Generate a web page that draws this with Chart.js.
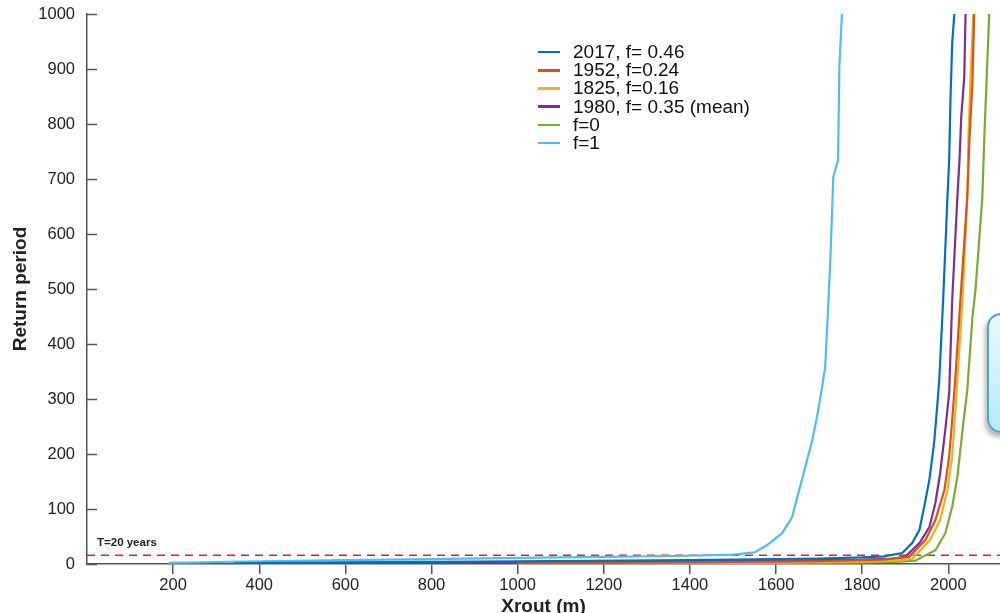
<!DOCTYPE html>
<html>
<head>
<meta charset="utf-8">
<script src="https://cdn.jsdelivr.net/npm/chart.js@4.4.1/dist/chart.umd.min.js"></script>
<style>
    html, body { margin: 0; padding: 0; background: #fff; overflow: hidden; }
    #wrap { position: relative; width: 1000px; height: 613px; overflow: hidden; font-family: "Liberation Sans", Arial, sans-serif; }
    #legend { position: absolute; left: 538px; top: 43px; font-size: 19px; color: #111; line-height: 18.2px; }
    #legend div { display: flex; align-items: center; white-space: nowrap; }
    #legend span.sw { display: inline-block; width: 22px; height: 2.5px; margin-right: 13px; }
    #tlabel { position: absolute; left: 97px; top: 536px; font-size: 11.5px; font-weight: bold; color: #222; }
    #callout { position: absolute; left: 987px; top: 313px; width: 40px; height: 116px; border-radius: 14px;
        border: 2px solid #4fa6c9; background: linear-gradient(to bottom, #eaf9fe, #b3e9fb);
        box-shadow: -2px 4px 5px rgba(0,0,0,0.3); }
</style>
</head>
<body>
<div id="wrap">
    <canvas id="chart" width="1000" height="613"></canvas>
    <div id="legend"></div>
    <div id="tlabel">T=20 years</div>
    <div id="callout"></div>
</div>
<script>
// Series: Xrout (m) and return period (years)
const x2017 = [342, 600, 1000, 1400, 1700, 1800, 1850, 1893, 1916, 1933, 1944, 1956, 1967, 1974, 1979, 1988, 1998, 2002, 2005, 2009, 2014];
const y2017 = [1, 3, 5, 7, 10, 12, 14, 20, 38, 62, 104, 153, 220, 285, 335, 480, 667, 735, 844, 947, 1000];

const x1952 = [1000, 1400, 1700, 1850, 1909, 1947, 1970, 1991, 2002, 2009, 2016, 2028, 2044, 2049, 2056, 2060];
const y1952 = [1, 3, 5, 8, 13, 44, 80, 135, 195, 262, 335, 480, 667, 771, 875, 1000];

const x1825 = [1190, 1500, 1800, 1880, 1916, 1958, 1981, 1998, 2009, 2016, 2021, 2033, 2044, 2047, 2051, 2058];
const y1825 = [1, 2, 4, 6, 9, 44, 80, 135, 195, 275, 335, 480, 667, 784, 875, 1000];

const x1980 = [444, 800, 1200, 1600, 1800, 1870, 1900, 1933, 1956, 1970, 1981, 1993, 2002, 2009, 2021, 2026, 2030, 2037, 2040];
const y1980 = [1, 2, 4, 6, 8, 10, 13, 38, 67, 111, 165, 244, 311, 480, 667, 735, 813, 885, 1000];

const xF0 = [1335, 1600, 1800, 1880, 1923, 1970, 1993, 2009, 2021, 2033, 2044, 2056, 2063, 2070, 2079, 2084, 2091, 2095];
const yF0 = [1, 2, 3, 4, 6, 25, 56, 104, 158, 244, 316, 449, 498, 571, 667, 784, 922, 1000];

const xF1 = [190, 400, 600, 800, 1000, 1200, 1400, 1500, 1550, 1580, 1614, 1637, 1660, 1684, 1695, 1707, 1714, 1721, 1726, 1733, 1744, 1747, 1753];
const yF1 = [2, 5, 7, 9, 11, 13, 15, 17, 21, 35, 56, 85, 153, 225, 267, 322, 358, 467, 553, 704, 735, 904, 1000];

const thresholdX = [0, 2120];
const thresholdY = [16, 16];

const labels = ['2017, f= 0.46', '1952, f=0.24', '1825, f=0.16', '1980, f= 0.35 (mean)', 'f=0', 'f=1'];
const colors = ['#0072BD', '#D95319', '#EDB120', '#7E2F8E', '#77AC30', '#4DBEEE'];

const xTickValues = [200, 400, 600, 800, 1000, 1200, 1400, 1600, 1800, 2000];
const yTickValues = [0, 100, 200, 300, 400, 500, 600, 700, 800, 900, 1000];

const seriesX = [x2017, x1952, x1825, x1980, xF0, xF1];
const seriesY = [y2017, y1952, y1825, y1980, yF0, yF1];

const toPoints = (xs, ys) => xs.map((x, i) => ({ x, y: ys[i] }));

const datasets = labels.map((label, i) => ({
    label,
    data: toPoints(seriesX[i], seriesY[i]),
    borderColor: colors[i],
    borderWidth: 2.2,
    pointRadius: 0,
    pointHoverRadius: 0,
    tension: 0,
    fill: false
}));
datasets.push({
    label: 'T=20 years',
    data: toPoints(thresholdX, thresholdY),
    borderColor: '#e02222',
    borderWidth: 1.5,
    borderDash: [8, 6],
    pointRadius: 0,
    pointHoverRadius: 0,
    fill: false
});

// legend as html
document.getElementById('legend').innerHTML = labels.map((l, i) =>
    `<div><span class="sw" style="background:${colors[i]}"></span>${l}</div>`).join('');

// y ticks point into the plot
const inwardTicks = {
    id: 'inwardTicks',
    afterDraw(chart) {
        const { ctx, chartArea, scales } = chart;
        ctx.save();
        ctx.strokeStyle = '#555';
        ctx.lineWidth = 1.5;
        yTickValues.forEach(v => {
            const py = Math.round(scales.y.getPixelForValue(v)) + 0.5;
            ctx.beginPath();
            ctx.moveTo(chartArea.left, py);
            ctx.lineTo(chartArea.left + 10, py);
            ctx.stroke();
        });
        ctx.restore();
    }
};

const font = { family: '"Liberation Sans", Arial, sans-serif' };
const plain = v => String(v);

new Chart(document.getElementById('chart'), {
    type: 'line',
    data: { datasets },
    options: {
        responsive: false,
        animation: false,
        devicePixelRatio: 1,
        layout: { autoPadding: false, padding: { top: 14, right: 0, left: 0, bottom: 0 } },
        plugins: { legend: { display: false }, tooltip: { enabled: false } },
        scales: {
            x: {
                type: 'linear',
                min: 0, max: 2120,
                afterBuildTicks: s => { s.ticks = xTickValues.map(v => ({ value: v })); },
                afterFit: s => { s.height = 49; s.paddingLeft = 0; s.paddingRight = 0; },
                grid: { drawOnChartArea: false, drawTicks: true, tickLength: 10, color: '#555', lineWidth: 1.5 },
                border: { display: true, color: '#555', width: 1.5 },
                ticks: { color: '#222', font: { ...font, size: 16.5 }, padding: 2, maxRotation: 0, callback: plain },
                title: { display: true, text: 'Xrout (m)', color: '#222', font: { ...font, size: 19, weight: 'bold', lineHeight: 1 }, padding: { top: 0, bottom: -3 } }
            },
            y: {
                type: 'linear',
                min: 0, max: 1000,
                afterBuildTicks: s => { s.ticks = yTickValues.map(v => ({ value: v })); },
                afterFit: s => { s.width = 87; s.paddingTop = 0; s.paddingBottom = 0; },
                grid: { display: false, drawTicks: false },
                border: { display: true, color: '#555', width: 1.5 },
                ticks: { color: '#222', font: { ...font, size: 16.5 }, padding: 12, callback: plain },
                title: { display: true, text: 'Return period', color: '#222', font: { ...font, size: 19, weight: 'bold' }, padding: { top: 9, bottom: 0 } }
            }
        }
    },
    plugins: [inwardTicks]
});
</script>
</body>
</html>
